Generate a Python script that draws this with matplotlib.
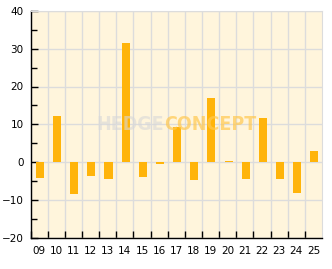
import matplotlib
matplotlib.use('Agg')
import matplotlib.pyplot as plt
import numpy as np
from matplotlib.ticker import MultipleLocator, FixedLocator

# data
years = ['09', '10', '11', '12', '13', '14', '15', '16', '17',
         '18', '19', '20', '21', '22', '23', '24', '25']
returns = [-4.2, 12.2, -8.4, -3.6, -4.5, 31.5, -4.0, -0.5, 9.3,
           -4.9, 17.0, 0.3, -4.4, 11.7, -4.4, -8.1, 2.9]

bg = '#fff5dc'
bar_col = '#ffb40a'
grid_col = '#dcdcdc'

fig = plt.figure(figsize=(3.32, 2.69), dpi=100)
ax = fig.add_axes([30.5 / 332, 31.5 / 269, 291.5 / 332, 226.5 / 269])
ax.set_facecolor(bg)

x = np.arange(len(years))
ax.bar(x + 0.05, returns, width=0.47, color=bar_col, zorder=3)

ax.set_xlim(-0.5, len(years) - 0.5)
ax.set_ylim(-20, 40)

# labels at slot centres, ticks / grid at slot boundaries
ax.set_xticks(x)
ax.set_xticklabels(years)
ax.xaxis.set_minor_locator(FixedLocator(np.arange(-0.5, len(years) - 1, 1.0)))
ax.tick_params(axis='x', which='major', length=0, pad=6, labelsize=7.5)
ax.tick_params(axis='x', which='minor', direction='in', length=5, width=1)

ax.yaxis.set_major_locator(MultipleLocator(10))
ax.yaxis.set_minor_locator(MultipleLocator(5))
ax.tick_params(axis='y', which='major', direction='in', length=5, width=1, pad=5, labelsize=7.5)
ax.tick_params(axis='y', which='minor', direction='in', length=4, width=1)

ax.grid(True, axis='y', which='major', color=grid_col, lw=1, zorder=1)
ax.grid(True, axis='x', which='minor', color=grid_col, lw=1, zorder=1)
ax.set_axisbelow(True)

for s in ['top', 'right']:
    ax.spines[s].set_color(grid_col)
for s in ['left', 'bottom']:
    ax.spines[s].set_color('black')
    ax.spines[s].set_linewidth(1)

# watermark
wm_font = ['DejaVu Sans', 'Liberation Sans']
ax.text(0.458, 0.5, 'HEDGE', transform=ax.transAxes, ha='right', va='center',
        fontsize=14, fontweight='bold', fontstretch='condensed',
        color='#d8d8d8', alpha=0.6, zorder=4, family=wm_font)
ax.text(0.458, 0.5, 'CONCEPT', transform=ax.transAxes, ha='left', va='center',
        fontsize=14, fontweight='bold', fontstretch='condensed',
        color='#ffc850', alpha=0.7, zorder=4, family=wm_font)

fig.savefig('out.png', dpi=100, facecolor='white')
